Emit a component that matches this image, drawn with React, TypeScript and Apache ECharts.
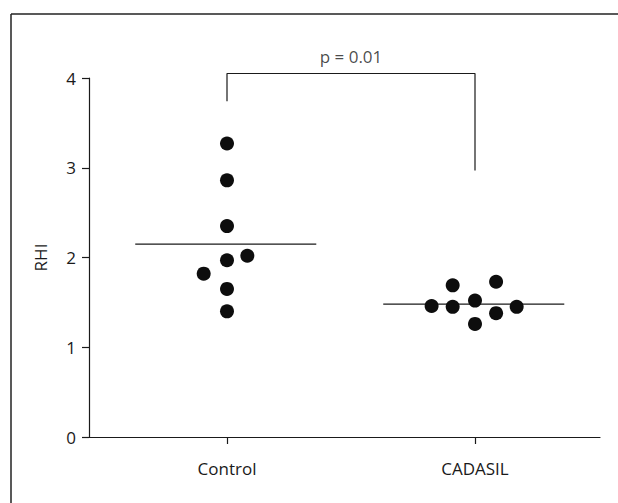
import React, { useEffect, useRef } from "react";
import * as echarts from "echarts";

const categories = ["Control", "CADASIL"];
const controlValues = [3.27, 2.86, 2.35, 1.97, 2.02, 1.82, 1.65, 1.4];
const controlJitter = [0, 0, 0, 0, 0.082, -0.094, 0, 0];
const cadasilValues = [1.69, 1.73, 1.46, 1.45, 1.52, 1.38, 1.45, 1.26];
const cadasilJitter = [-0.09, 0.085, -0.175, -0.09, 0, 0.085, 0.168, 0];
const groupMeans = [2.15, 1.48];
const pText = "p = 0.01";
const bracketLeftBottom = 3.74;
const bracketTop = 4.05;
const bracketRightBottom = 2.97;
const yTicks = [0, 1, 2, 3, 4];

export default function App() {
  const ref = useRef<HTMLDivElement>(null);
  useEffect(() => {
    if (!ref.current) return;
    const chart = echarts.init(ref.current, undefined, { renderer: "svg" });
    const font = "'Open Sans', 'Noto Sans', sans-serif";
    const ink = "#1a1a1a";
    const fs = 17;
    const pos = (i: number) => i + 1;
    const pts = (vals: number[], jit: number[], i: number) =>
      vals.map((v, k) => [pos(i) + jit[k], v]);
    const meanLine = (i: number) => [
      [pos(i) - 0.37, groupMeans[i]],
      [pos(i) + 0.36, groupMeans[i]],
    ];
    chart.setOption({
      animation: false,
      backgroundColor: "#ffffff",
      textStyle: { fontFamily: font },
      grid: { left: 89, right: 18, top: 78, bottom: 66 },
      xAxis: {
        type: "value",
        min: 1 - 138 / 248,
        max: 1 + 373 / 248,
        splitLine: { show: false },
        axisLine: { show: true, lineStyle: { color: ink, width: 1.2 } },
        axisTick: {
          show: true,
          customValues: [1, 2],
          length: 7,
          lineStyle: { color: ink, width: 1.2 },
        },
        axisLabel: {
          customValues: [1, 2],
          formatter: (v: number) => categories[Math.round(v) - 1] ?? "",
          color: ink,
          fontSize: fs,
          fontFamily: font,
          margin: 23,
        },
      },
      yAxis: {
        type: "value",
        min: 0,
        max: 4,
        interval: 1,
        name: "RHI",
        nameLocation: "middle",
        nameGap: 40,
        nameRotate: 90,
        nameTextStyle: { color: ink, fontSize: fs, fontFamily: font },
        splitLine: { show: false },
        axisLine: { show: true, lineStyle: { color: ink, width: 1.2 } },
        axisTick: { show: true, length: 7, lineStyle: { color: ink, width: 1.2 } },
        axisLabel: {
          color: ink,
          fontSize: fs,
          fontFamily: font,
          margin: 13,
          formatter: (v: number) => (yTicks.includes(v) ? String(v) : ""),
        },
      },
      graphic: [
        {
          type: "line",
          shape: { x1: 11, y1: 503, x2: 11, y2: 14 },
          style: { stroke: "#222", lineWidth: 1.5 },
          silent: true,
        },
        {
          type: "line",
          shape: { x1: 11, y1: 14, x2: 618, y2: 14 },
          style: { stroke: "#222", lineWidth: 1.5 },
          silent: true,
        },
      ],
      series: [
        {
          type: "line",
          data: meanLine(0),
          symbol: "none",
          lineStyle: { color: ink, width: 1.2 },
          clip: false,
          z: 1,
        },
        {
          type: "line",
          data: meanLine(1),
          symbol: "none",
          lineStyle: { color: ink, width: 1.2 },
          clip: false,
          z: 1,
        },
        {
          type: "scatter",
          data: pts(controlValues, controlJitter, 0),
          symbol: "circle",
          symbolSize: 14,
          itemStyle: { color: "#0d0d0d", opacity: 1 },
          z: 3,
        },
        {
          type: "scatter",
          data: pts(cadasilValues, cadasilJitter, 1),
          symbol: "circle",
          symbolSize: 14,
          itemStyle: { color: "#0d0d0d", opacity: 1 },
          z: 3,
        },
        {
          type: "line",
          data: [
            [pos(0), bracketLeftBottom],
            [pos(0), bracketTop],
            [pos(1), bracketTop],
            [pos(1), bracketRightBottom],
          ],
          symbol: "none",
          lineStyle: { color: ink, width: 1.2 },
          clip: false,
          z: 1,
        },
        {
          type: "scatter",
          data: [[(pos(0) + pos(1)) / 2, bracketTop]],
          symbolSize: 0,
          clip: false,
          label: {
            show: true,
            position: "top",
            distance: 9,
            formatter: pText,
            color: ink,
            fontSize: fs,
            fontFamily: font,
          },
        },
      ],
    });
    return () => chart.dispose();
  }, []);
  return (
    <div
      ref={ref}
      style={{ position: "fixed", left: 0, top: 0, width: 618, height: 503, background: "#fff" }}
    />
  );
}
